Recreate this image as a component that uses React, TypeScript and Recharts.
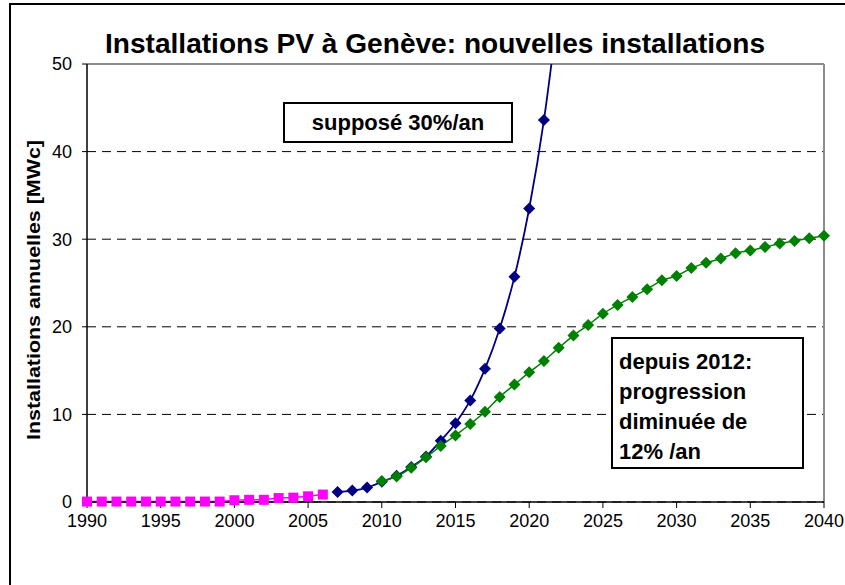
import React from "react";
import {
  LineChart,
  Line,
  XAxis,
  YAxis,
  CartesianGrid,
  ReferenceLine,
} from "recharts";

// Historique 1990-2006 (magenta)
const histYears = [
  1990, 1991, 1992, 1993, 1994, 1995, 1996, 1997, 1998, 1999, 2000, 2001,
  2002, 2003, 2004, 2005, 2006,
];
const histValues = [
  0.05, 0.05, 0.05, 0.05, 0.05, 0.05, 0.05, 0.05, 0.05, 0.05, 0.2, 0.25, 0.25,
  0.45, 0.5, 0.65, 0.85,
];

// Hypothèse 30%/an (bleu)
const fastYears = [
  2007, 2008, 2009, 2010, 2011, 2012, 2013, 2014, 2015, 2016, 2017, 2018,
  2019, 2020, 2021, 2022,
];
const fastValues = [
  1.15, 1.3, 1.65, 2.3, 3.0, 4.0, 5.2, 7.0, 9.0, 11.6, 15.2, 19.8, 25.7, 33.5,
  43.6, 56.7,
];

// Progression diminuée depuis 2012 (vert)
const slowYears = [
  2010, 2011, 2012, 2013, 2014, 2015, 2016, 2017, 2018, 2019, 2020, 2021,
  2022, 2023, 2024, 2025, 2026, 2027, 2028, 2029, 2030, 2031, 2032, 2033,
  2034, 2035, 2036, 2037, 2038, 2039, 2040,
];
const slowValues = [
  2.4, 2.9, 3.9, 5.1, 6.4, 7.6, 8.9, 10.3, 12.0, 13.4, 14.8, 16.1, 17.6, 19.0,
  20.2, 21.5, 22.5, 23.4, 24.3, 25.3, 25.8, 26.7, 27.3, 27.8, 28.4, 28.7, 29.1,
  29.5, 29.8, 30.1, 30.4,
];

const xTicks = [1990, 1995, 2000, 2005, 2010, 2015, 2020, 2025, 2030, 2035, 2040];
const yTicks = [0, 10, 20, 30, 40, 50];

const toRows = (years: number[], values: number[]) =>
  years.map((year, i) => ({ year, v: values[i] }));

const histData = toRows(histYears, histValues);
const fastData = toRows(fastYears, fastValues);
const slowData = toRows(slowYears, slowValues);

const FONT = "'Liberation Sans', Arial, sans-serif";

const Square = (color: string) => (props: any) => {
  const { cx, cy, index } = props;
  if (cx == null || cy == null) return <g key={index} />;
  return (
    <rect key={index} x={cx - 5} y={cy - 5} width={10} height={10} fill={color} />
  );
};

const Diamond = (color: string) => (props: any) => {
  const { cx, cy, index } = props;
  if (cx == null || cy == null) return <g key={index} />;
  const r = 6;
  return (
    <polygon
      key={index}
      points={`${cx},${cy - r} ${cx + r},${cy} ${cx},${cy + r} ${cx - r},${cy}`}
      fill={color}
    />
  );
};

const boxStyle: React.CSSProperties = {
  position: "absolute",
  border: "2px solid #000",
  background: "#fff",
  fontFamily: FONT,
  fontWeight: "bold",
  color: "#000",
  boxSizing: "border-box",
};

export default function App() {
  return (
    <div
      style={{
        position: "absolute",
        left: 0,
        top: 0,
        width: 845,
        height: 585,
        overflow: "hidden",
        background: "#fff",
        fontFamily: FONT,
      }}
    >
      {/* cadre extérieur */}
      <div
        style={{
          position: "absolute",
          left: 9,
          top: 3,
          width: 900,
          height: 700,
          border: "2px solid #000",
        }}
      />

      <div style={{ position: "absolute", left: 0, top: 0 }}>
        <LineChart
          width={845}
          height={585}
          margin={{ top: 64, right: 21, bottom: 53, left: 27 }}
        >
          <CartesianGrid
            yAxisId="main"
            horizontal
            vertical={false}
            stroke="#000"
            strokeDasharray="9 6"
          />
          <XAxis
            dataKey="year"
            type="number"
            domain={[1990, 2040]}
            ticks={xTicks}
            interval={0}
            axisLine={{ stroke: "#000", strokeWidth: 1.5 }}
            tickLine={{ stroke: "#000" }}
            tickSize={6}
            tickMargin={6}
            tick={{ fill: "#000", fontSize: 18, fontFamily: FONT }}
            height={30}
          />
          <YAxis
            yAxisId="main"
            type="number"
            domain={[0, 50]}
            ticks={yTicks}
            axisLine={{ stroke: "#000", strokeWidth: 1.5 }}
            tickLine={{ stroke: "#000" }}
            tickSize={5}
            tickMargin={10}
            tick={{ fill: "#000", fontSize: 18, fontFamily: FONT }}
            width={60}
          />
          {/* même échelle, mais coupée en haut pour la courbe à 30%/an */}
          <YAxis
            yAxisId="clip"
            orientation="right"
            type="number"
            domain={[0, 50]}
            allowDataOverflow
            width={0}
            hide
          />
          <ReferenceLine yAxisId="main" y={50} stroke="#8c8c8c" strokeWidth={2} />
          <ReferenceLine yAxisId="main" x={2040} stroke="#8c8c8c" strokeWidth={2} />
          <Line
            yAxisId="main"
            data={histData}
            dataKey="v"
            type="linear"
            stroke="#ff00ff"
            strokeWidth={1.5}
            dot={Square("#ff00ff")}
            isAnimationActive={false}
          />
          <Line
            yAxisId="clip"
            data={fastData}
            dataKey="v"
            type="monotone"
            stroke="#000080"
            strokeWidth={1.8}
            dot={Diamond("#000080")}
            isAnimationActive={false}
          />
          <Line
            yAxisId="main"
            data={slowData}
            dataKey="v"
            type="monotone"
            stroke="#008000"
            strokeWidth={1.5}
            dot={Diamond("#008000")}
            isAnimationActive={false}
          />
        </LineChart>
      </div>

      {/* titre et titre d'axe */}
      <svg
        width={845}
        height={585}
        style={{ position: "absolute", left: 0, top: 0, pointerEvents: "none" }}
      >
        <text
          x={105}
          y={53}
          textLength={660}
          lengthAdjust="spacingAndGlyphs"
          fontSize={27}
          fontWeight="bold"
          fontFamily={FONT}
          fill="#000"
        >
          Installations PV à Genève: nouvelles installations
        </text>
        <text
          transform="translate(40,290) rotate(-90)"
          textAnchor="middle"
          textLength={300}
          lengthAdjust="spacingAndGlyphs"
          fontSize={18}
          fontWeight="bold"
          fontFamily={FONT}
          fill="#000"
        >
          Installations annuelles [MWc]
        </text>
      </svg>

      {/* annotations */}
      <div
        style={{
          ...boxStyle,
          left: 283,
          top: 102,
          width: 230,
          height: 41,
          fontSize: 22,
          lineHeight: "37px",
          textAlign: "center",
        }}
      >
        supposé 30%/an
      </div>
      <div
        style={{
          ...boxStyle,
          left: 611,
          top: 337,
          width: 193,
          height: 132,
          fontSize: 22,
          lineHeight: "30px",
          padding: "8px 0 0 6px",
        }}
      >
        depuis 2012:
        <br />
        progression
        <br />
        diminuée de
        <br />
        12% /an
      </div>
    </div>
  );
}
